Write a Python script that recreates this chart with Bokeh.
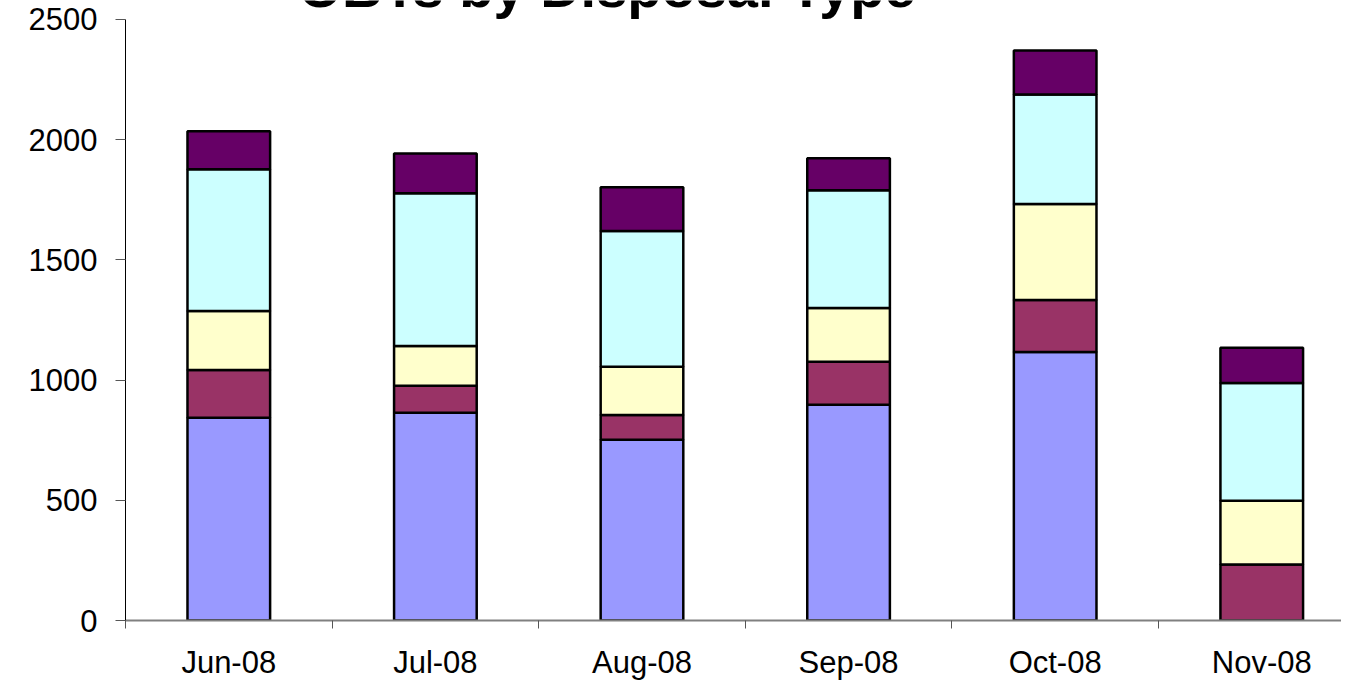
from bokeh.plotting import figure
from bokeh.models import ColumnDataSource, FixedTicker, Label, Range1d
from bokeh.embed import file_html
from bokeh.resources import INLINE

# ---- data ----
months = ["Jun-08", "Jul-08", "Aug-08", "Sep-08", "Oct-08", "Nov-08"]
series_names = ["Type A", "Type B", "Type C", "Type D", "Type E"]
type_a = [843, 864, 752, 897, 1117, 0]
type_b = [199, 112, 103, 179, 216, 233]
type_c = [245, 166, 200, 224, 399, 265]
type_d = [590, 635, 565, 490, 456, 490]
type_e = [158, 166, 182, 133, 183, 146]
colors = ["#9999FF", "#993366", "#FFFFCC", "#CCFFFF", "#660066"]
y_ticks = [0, 500, 1000, 1500, 2000, 2500]
title_text = "OBTs by Disposal Type"

centers = [i + 0.5 for i in range(len(months))]
boundaries = [i for i in range(len(months) + 1)]

source = ColumnDataSource(dict(
    x=centers,
    **{series_names[0]: type_a, series_names[1]: type_b, series_names[2]: type_c,
       series_names[3]: type_d, series_names[4]: type_e}
))

W, H = 1341, 682
FRAME_LEFT, FRAME_H = 125, 621
# frame reaches the top edge; the axis itself stops at 2500
y_top = 2500 * FRAME_H / 602
p = figure(width=W, height=H, output_backend="svg", toolbar_location=None,
           x_range=Range1d(0, 5.886), y_range=Range1d(0, y_top),
           min_border_left=FRAME_LEFT, min_border_right=0, min_border_top=0,
           min_border_bottom=40)
p.outline_line_color = None
p.xgrid.grid_line_color = None
p.ygrid.grid_line_color = None
p.background_fill_color = "white"
p.border_fill_color = "white"

p.vbar_stack(series_names, x="x", width=0.40, source=source, color=colors,
             line_color="black", line_width=2.5)

# y axis
ya = p.yaxis[0]
ya.ticker = FixedTicker(ticks=y_ticks)
ya.bounds = (0, 2500)
ya.axis_line_color = "black"
ya.axis_line_width = 1
ya.major_tick_out = 10
ya.major_tick_in = 0
ya.minor_tick_out = 0
ya.minor_tick_in = 0
ya.major_tick_line_color = "#555555"
ya.major_label_standoff = 18
ya.major_label_text_font = "Liberation Sans"
ya.major_label_text_font_size = "31px"
ya.major_label_text_color = "black"

# x axis
xa = p.xaxis[0]
xa.ticker = FixedTicker(ticks=centers, minor_ticks=boundaries)
xa.major_label_overrides = {c: m for c, m in zip(centers, months)}
xa.axis_line_color = "#808080"
xa.axis_line_width = 2
xa.major_tick_out = 0
xa.major_tick_in = 0
xa.minor_tick_out = 8
xa.minor_tick_in = 0
xa.minor_tick_line_color = "#555555"
xa.major_label_standoff = 16
xa.major_label_text_font = "Liberation Sans"
xa.major_label_text_font_size = "31px"
xa.major_label_text_color = "black"

# title (the reference shows it running off the top edge); screen units are frame-relative
title = Label(x=298 - FRAME_LEFT, y=FRAME_H + 12, x_units="screen", y_units="screen",
              text=title_text,
              text_font="Liberation Sans", text_font_size="56px",
              text_font_style="bold", text_color="black",
              text_baseline="alphabetic", text_align="left")
p.add_layout(title)

open("out.html", "w").write(file_html(p, INLINE))
